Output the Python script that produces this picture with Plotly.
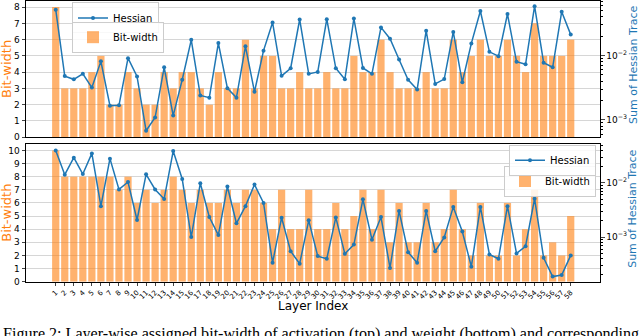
import plotly.graph_objects as go
from plotly.subplots import make_subplots

layers = list(range(1, 59))

# activation (top panel)
act_bits = [8, 3, 3, 3, 4, 5, 2, 2, 4, 3,
            2, 2, 4, 3, 4, 4, 3, 2, 4, 3,
            3, 6, 3, 5, 5, 3, 3, 4, 3, 3,
            4, 3, 3, 5, 4, 4, 6, 4, 3, 3,
            3, 4, 3, 3, 6, 4, 5, 6, 5, 5,
            6, 5, 4, 7, 5, 5, 5, 6]
act_hessian = [0.0514, 0.00479, 0.00427, 0.00519, 0.00318, 0.00811, 0.00166, 0.00169, 0.00909, 0.00474,
               0.000681, 0.00109, 0.00657, 0.00117, 0.00421, 0.0175, 0.00240, 0.00222, 0.0156, 0.00311,
               0.00222, 0.0139, 0.00273, 0.0119, 0.0326, 0.00484, 0.00634, 0.0362, 0.00519, 0.00557,
               0.0366, 0.00634, 0.00427, 0.0375, 0.00641, 0.00519, 0.0273, 0.0182, 0.00869, 0.00421,
               0.00296, 0.0243, 0.00362, 0.00431, 0.0232, 0.00384, 0.0154, 0.0490, 0.0114, 0.00976,
               0.0440, 0.00802, 0.00730, 0.0583, 0.00774, 0.00657, 0.0479, 0.0211]

# weight (bottom panel)
wgt_bits = [10, 8, 8, 8, 8, 8, 8, 7, 8, 6,
            7, 6, 7, 8, 7, 6, 7, 6, 6, 7,
            6, 7, 7, 6, 4, 7, 4, 4, 7, 4,
            4, 6, 4, 5, 7, 4, 7, 3, 6, 3,
            3, 6, 3, 4, 7, 4, 2, 6, 2, 2,
            6, 2, 4, 7, 2, 3, 2, 5]
wgt_hessian = [0.0398, 0.0142, 0.0293, 0.0146, 0.0351, 0.00373, 0.0281, 0.00759, 0.0104, 0.00207,
               0.0144, 0.00759, 0.00506, 0.0388, 0.0118, 0.00100, 0.00988, 0.00235, 0.00109, 0.00861,
               0.00180, 0.00373, 0.00935, 0.00428, 0.000337, 0.00228, 0.000549, 0.000323, 0.00204, 0.000446,
               0.000398, 0.00231, 0.000491, 0.000728, 0.00499, 0.000897, 0.00235, 0.000270, 0.00305, 0.000527,
               0.000337, 0.00305, 0.000549, 0.000988, 0.00361, 0.00127, 0.000285, 0.00361, 0.000479, 0.000398,
               0.00373, 0.000499, 0.000678, 0.00512, 0.000415, 0.000187, 0.000199, 0.000459]

ORANGE = "#ff7f0e"
BLUE = "#1f77b4"
FONT = "DejaVu Sans"
W, H = 640, 336


def px_x(p):
    return p / W


def px_y(p):
    return 1 - p / H


fig = make_subplots(rows=2, cols=1,
                    specs=[[{"secondary_y": True}], [{"secondary_y": True}]])

panels = [
    (1, act_bits, act_hessian, "legend", "legend2"),
    (2, wgt_bits, wgt_hessian, "legend3", "legend4"),
]
for row, bits, hess, leg_h, leg_b in panels:
    fig.add_trace(go.Bar(
        x=layers, y=bits, name="Bit-width", width=0.8, opacity=0.6,
        marker=dict(color=ORANGE, line_width=0), legend=leg_b, showlegend=True,
    ), row=row, col=1, secondary_y=False)
    fig.add_trace(go.Scatter(
        x=layers, y=hess, name="Hessian", mode="lines+markers",
        line=dict(color=BLUE, width=1.5), marker=dict(size=4, color=BLUE),
        legend=leg_h, showlegend=True,
    ), row=row, col=1, secondary_y=True)

xdom = [px_x(26), px_x(600)]
xrange = [-2.29, 61.24]
frame = dict(showline=True, linecolor="black", linewidth=1)
tickfont = dict(family=FONT, size=9, color="black")

fig.update_layout(
    xaxis=dict(domain=xdom, range=xrange, showticklabels=False, ticks="",
               showgrid=False, mirror=True, anchor="y", **frame),
    xaxis2=dict(domain=xdom, range=xrange, tickmode="array", tickvals=layers,
                ticktext=[str(i) for i in layers], tickangle=-45,
                tickfont=dict(family=FONT, size=7, color="black"),
                ticks="outside", ticklen=3, showgrid=False, mirror=True,
                anchor="y3", **frame),
    yaxis=dict(domain=[px_y(139.3), px_y(0.6)], range=[0, 8.4], dtick=1,
               ticks="outside", ticklen=3.5, tickfont=tickfont,
               showgrid=True, gridcolor="#d6d6d6", gridwidth=1,
               zeroline=False, **frame),
    yaxis2=dict(type="log", range=[-3.268, -1.148], side="right",
                tickmode="array", tickvals=[0.001, 0.01],
                ticktext=["10<sup>−3</sup>", "10<sup>−2</sup>"],
                ticks="outside", ticklen=3.5, tickfont=tickfont,
                minor=dict(ticks="outside", ticklen=2, tickcolor="black",
                           tickvals=[6e-4, 7e-4, 8e-4, 9e-4, 2e-3, 3e-3, 4e-3, 5e-3,
                                     6e-3, 7e-3, 8e-3, 9e-3, 2e-2, 3e-2, 4e-2, 5e-2,
                                     6e-2, 7e-2]),
                showgrid=False, **frame),
    yaxis3=dict(domain=[px_y(286), px_y(146)], range=[0, 10.5], dtick=1,
                ticks="outside", ticklen=3.5, tickfont=tickfont,
                showgrid=True, gridcolor="#d6d6d6", gridwidth=1,
                zeroline=False, **frame),
    yaxis4=dict(type="log", range=[-3.824, -1.278], side="right",
                tickmode="array", tickvals=[0.001, 0.01],
                ticktext=["10<sup>−3</sup>", "10<sup>−2</sup>"],
                ticks="outside", ticklen=3.5, tickfont=tickfont,
                minor=dict(ticks="outside", ticklen=2, tickcolor="black",
                           tickvals=[2e-4, 3e-4, 4e-4, 5e-4, 6e-4, 7e-4, 8e-4, 9e-4,
                                     2e-3, 3e-3, 4e-3, 5e-3, 6e-3, 7e-3, 8e-3, 9e-3,
                                     2e-2, 3e-2, 4e-2, 5e-2]),
                showgrid=False, **frame),
)

legend_style = dict(font=dict(family=FONT, size=10, color="black"),
                    bgcolor="rgba(255,255,255,0.85)", bordercolor="#cccccc",
                    borderwidth=1, itemwidth=30, tracegroupgap=0)
fig.update_layout(
    showlegend=True,
    legend=dict(x=px_x(72), y=px_y(2.5), xanchor="left", yanchor="top", **legend_style),
    legend2=dict(x=px_x(72), y=px_y(22), xanchor="left", yanchor="top", **legend_style),
    legend3=dict(x=px_x(596), y=px_y(147), xanchor="right", yanchor="top", **legend_style),
    legend4=dict(x=px_x(596), y=px_y(168), xanchor="right", yanchor="top", **legend_style),
)

annotations = [
    dict(text="Bit-width", x=px_x(7), y=px_y(70), textangle=-90,
         font=dict(family=FONT, size=13, color=ORANGE)),
    dict(text="Bit-width", x=px_x(7), y=px_y(216), textangle=-90,
         font=dict(family=FONT, size=13, color=ORANGE)),
    dict(text="Sum of Hessian Trace", x=px_x(633), y=px_y(66), textangle=-90,
         font=dict(family=FONT, size=11, color=BLUE)),
    dict(text="Sum of Hessian Trace", x=px_x(633), y=px_y(212), textangle=-90,
         font=dict(family=FONT, size=11, color=BLUE)),
    dict(text="Layer Index", x=px_x(313), y=px_y(311),
         font=dict(family=FONT, size=12, color="black")),
    dict(text="Figure 2: Layer-wise assigned bit-width of activation (top) and weight (bottom) and corresponding",
         x=px_x(1), y=px_y(328), xanchor="left", yanchor="top",
         font=dict(family="Liberation Serif", size=16.1, color="black")),
]
for a in annotations:
    a.setdefault("xanchor", "center")
    a.setdefault("yanchor", "middle")
    a.update(xref="paper", yref="paper", showarrow=False)

fig.update_layout(
    annotations=annotations,
    width=W, height=H,
    margin=dict(l=0, r=0, t=0, b=0),
    paper_bgcolor="white", plot_bgcolor="white",
    bargap=0.2,
    font=dict(family=FONT),
)

# the page body has a default 8px margin; drop it so the figure sits at 0,0
fig.write_html("out.html", config={"displayModeBar": False},
               post_script="document.body.style.margin='0px';")
